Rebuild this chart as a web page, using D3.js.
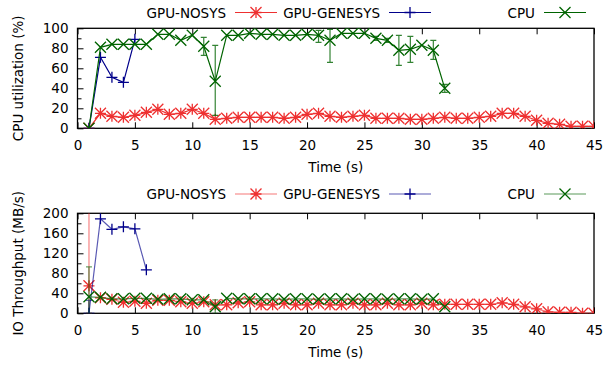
<!DOCTYPE html>
<html>
<head>
<meta charset="utf-8">
<script src="https://cdn.jsdelivr.net/npm/d3@7"></script>
<style>
  body { margin: 0; background: #fff; }
  svg text { font-family: "DejaVu Sans", sans-serif; font-size: 13.5px; fill: #000; }
</style>
</head>
<body>
<div id="chart"></div>
<script>

/*******************************/
/*    Data  */
/*******************************/
const seconds = [1, 2, 3, 4, 5, 6, 7, 8, 9, 10, 11, 12, 13, 14, 15, 16, 17, 18, 19, 20, 21, 22, 23,
  24, 25, 26, 27, 28, 29, 30, 31, 32, 33, 34, 35, 36, 37, 38, 39, 40, 41, 42, 43, 44, 45];
const seriesNames = ["GPU-NOSYS", "GPU-GENESYS", "CPU"];

// CPU utilization (%)
const cpuNosys = [0, 15, 12, 11, 13, 16, 19, 14, 15, 19, 15, 9, 10, 11, 11, 11, 11, 10, 11, 14, 15, 12,
  11, 12, 13, 10, 10, 10, 9, 9, 10, 11, 10, 10, 11, 12, 15, 15, 12, 8, 5, 4, 2, 2, 2];
const cpuGenesys = [0, 71, 51, 46, 89];
const cpuCpu = [0, 81, 84, 84, 84, 84, 94, 94, 88, 93, 82, 47, 93, 93, 95, 94, 94, 93, 93, 94, 93, 88,
  95, 95, 95, 90, 88, 78, 79, 83, 78, 40];
// [second, low, high]
const cpuCpuErr = [[11, 73, 91], [12, 13, 83], [21, 86, 98], [22, 66, 99], [26, 88, 92],
  [27, 86, 90], [28, 63, 93], [29, 66, 92], [31, 69, 88], [32, 36, 44]];

// IO throughput (MB/s)
const ioNosys = [55, 31, 28, 22, 24, 20, 26, 26, 23, 20, 23, 17, 17, 21, 23, 17, 17, 20, 17, 17, 20, 17,
  17, 20, 17, 17, 20, 17, 17, 20, 17, 18, 18, 18, 18, 18, 21, 18, 13, 9, 3, 2, 2, 0, 0];
const ioNosysErr = [[1, 0, 260]];
const ioGenesys = [0, 189, 168, 173, 169, 87];
const ioGenesysErr = [[1, -7, 26]];
const ioCpu = [33, 32, 29, 29, 30, 30, 28, 29, 29, 27, 27, 13, 30, 29, 29, 29, 29, 28, 29, 29, 28, 29,
  29, 28, 29, 29, 28, 29, 29, 28, 29, 13];
const ioCpuErr = [[1, 0, 93], [12, 0, 27]];

const xTicks = [0, 5, 10, 15, 20, 25, 30, 35, 40, 45];
const cpuTicks = [0, 20, 40, 60, 80, 100];
const cpuMinor = [10, 30, 50, 70, 90];
const ioTicks = [0, 40, 80, 120, 160, 200];
const ioMinor = [20, 60, 100, 140, 180];

/*******************************/
/*    Constants                */
/*******************************/
const width = 605;
const height = 366;
const plotLeft = 77.5;
const plotRight = 594;
const colors = ["#ee3030", "#00008b", "#006400"];
const shapes = ["star", "plus", "cross"];

const svg = d3.select("#chart")
  .append("svg")
    .attr("width", width)
    .attr("height", height);

const xScale = d3.scaleLinear()
  .domain([0, 45])
  .range([plotLeft, plotRight]);

// Marker path for gnuplot-like point types
const marker = (type, s) => {
  const plus = `M${-s},0H${s}M0,${-s}V${s}`;
  const cross = `M${-s},${-s}L${s},${s}M${-s},${s}L${s},${-s}`;
  if (type === "plus") return plus;
  if (type === "cross") return cross;
  return plus + cross;
};
const markerSize = [5.5, 5.5, 5.5];

/*******************************/
/*    Draw one panel           */
/*******************************/
const drawPanel = (panel, idx) => {
  const yScale = d3.scaleLinear()
    .domain([0, panel.yMax])
    .range([panel.bottom, panel.top]);

  const g = svg.append("g");

  // clip for the plot area
  const clipId = `clip${idx}`;
  g.append("clipPath")
    .attr("id", clipId)
    .append("rect")
      .attr("x", plotLeft)
      .attr("y", panel.top)
      .attr("width", plotRight - plotLeft)
      .attr("height", panel.bottom - panel.top);

  // minor y ticks
  g.append("g")
    .attr("transform", `translate(${plotLeft},0)`)
    .call(d3.axisLeft(yScale).tickValues(panel.minor).tickSize(-4).tickFormat(""))
    .call(a => a.select(".domain").remove());

  // major y ticks and labels
  g.append("g")
    .attr("transform", `translate(${plotLeft},0)`)
    .call(d3.axisLeft(yScale).tickValues(panel.ticks).tickSizeInner(-6).tickSizeOuter(0).tickPadding(9))
    .call(a => a.select(".domain").remove())
    .call(a => a.selectAll("text").style("font-size", "13.5px").attr("fill", "#000"));

  // x axis bottom
  g.append("g")
    .attr("transform", `translate(0,${panel.bottom})`)
    .call(d3.axisBottom(xScale).tickValues(xTicks).tickSizeInner(-6).tickSizeOuter(0).tickPadding(12))
    .call(a => a.select(".domain").remove())
    .call(a => a.selectAll("text").style("font-size", "13.5px").attr("fill", "#000"));

  // x axis mirror ticks on top
  g.append("g")
    .attr("transform", `translate(0,${panel.top})`)
    .call(d3.axisTop(xScale).tickValues(xTicks).tickSize(-6).tickFormat(""))
    .call(a => a.select(".domain").remove());

  g.selectAll(".tick line").attr("stroke", "#000").attr("stroke-width", 1);

  // frame
  g.append("rect")
    .attr("x", plotLeft)
    .attr("y", panel.top)
    .attr("width", plotRight - plotLeft)
    .attr("height", panel.bottom - panel.top)
    .attr("fill", "none")
    .attr("stroke", "#000")
    .attr("stroke-width", 1.3);

  // series
  const plot = g.append("g").attr("clip-path", `url(#${clipId})`);
  const line = d3.line()
    .x(d => xScale(d.t))
    .y(d => yScale(d.v));

  panel.series.forEach((vals, i) => {
    const pts = vals.map((v, k) => ({t: seconds[k], v: v}));
    const sg = plot.append("g");

    // error bars
    panel.errors[i].forEach(e => {
      const x = xScale(e[0]);
      sg.append("path")
        .attr("d", `M${x},${yScale(e[1])}V${yScale(e[2])}M${x - 3},${yScale(e[1])}H${x + 3}M${x - 3},${yScale(e[2])}H${x + 3}`)
        .attr("stroke", colors[i])
        .attr("stroke-opacity", panel.errOpacity)
        .attr("stroke-width", 1.2)
        .attr("fill", "none");
    });

    sg.append("path")
      .datum(pts)
      .attr("d", line)
      .attr("fill", "none")
      .attr("stroke", colors[i])
      .attr("stroke-opacity", panel.lineOpacity)
      .attr("stroke-width", 1.2);

    sg.selectAll(".pt")
      .data(pts)
      .join("path")
        .attr("transform", d => `translate(${xScale(d.t)},${yScale(d.v)})`)
        .attr("d", marker(shapes[i], markerSize[i]))
        .attr("stroke", colors[i])
        .attr("stroke-width", 1.3)
        .attr("fill", "none");
  });

  // legend
  const legendX = [226, 380, 535];
  seriesNames.forEach((name, i) => {
    g.append("text")
      .attr("x", legendX[i])
      .attr("y", panel.legendY + 5)
      .attr("text-anchor", "end")
      .text(name);
    const x0 = legendX[i] + 9;
    g.append("line")
      .attr("x1", x0).attr("x2", x0 + 42)
      .attr("y1", panel.legendY).attr("y2", panel.legendY)
      .attr("stroke", colors[i])
      .attr("stroke-opacity", panel.lineOpacity)
      .attr("stroke-width", 1.2);
    g.append("path")
      .attr("transform", `translate(${x0 + 21},${panel.legendY})`)
      .attr("d", marker(shapes[i], markerSize[i]))
      .attr("stroke", colors[i])
      .attr("stroke-width", 1.3)
      .attr("fill", "none");
  });

  // axis titles
  g.append("text")
    .attr("x", (plotLeft + plotRight) / 2)
    .attr("y", panel.bottom + 44)
    .attr("text-anchor", "middle")
    .text("Time (s)");

  g.append("text")
    .attr("transform", `translate(22.5,${(panel.top + panel.bottom) / 2}) rotate(-90)`)
    .attr("text-anchor", "middle")
    .text(panel.yLabel);
};

/*******************************/
/*    Panels                   */
/*******************************/
const panels = [
  {
    top: 28.3, bottom: 128.3, yMax: 100, ticks: cpuTicks, minor: cpuMinor,
    yLabel: "CPU utilization (%)", legendY: 12.5, lineOpacity: 1, errOpacity: 0.8,
    series: [cpuNosys, cpuGenesys, cpuCpu],
    errors: [[], [], cpuCpuErr]
  },
  {
    top: 213.3, bottom: 313.3, yMax: 200, ticks: ioTicks, minor: ioMinor,
    yLabel: "IO Throughput (MB/s)", legendY: 194, lineOpacity: 0.65, errOpacity: 0.6,
    series: [ioNosys, ioGenesys, ioCpu],
    errors: [ioNosysErr, ioGenesysErr, ioCpuErr]
  }
];

panels.forEach(drawPanel);
</script>
</body>
</html>
